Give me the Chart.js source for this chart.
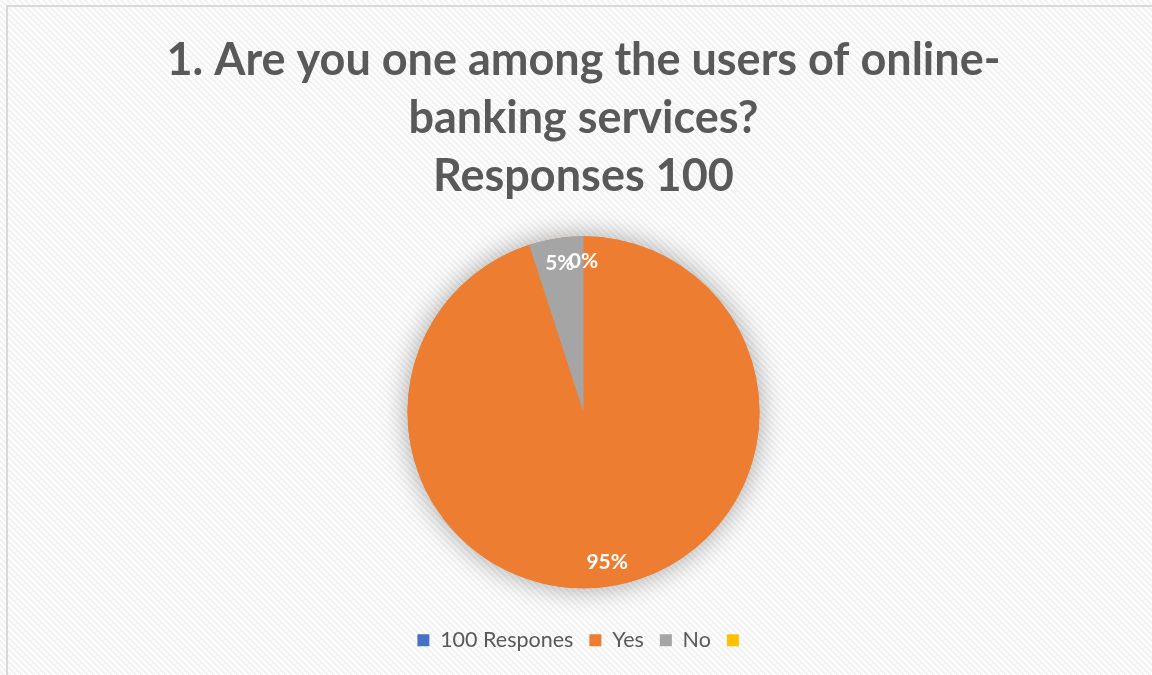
<!DOCTYPE html>
<html>
<head>
<meta charset="utf-8">
<title>Online banking survey</title>
<script src="https://cdn.jsdelivr.net/npm/chart.js@4.4.1/dist/chart.umd.min.js"></script>
<style>
  html, body { margin: 0; padding: 0; background: #ffffff; }
  #wrap { width: 1152px; height: 675px; }
</style>
</head>
<body>
<div id="wrap"><canvas id="chart" width="1152" height="675"></canvas></div>
<script>
// Survey answers
const categories = ['100 Respones', 'Yes', 'No', ''];
const responses = [0, 95, 5, null];
const sliceColors = ['#4472C4', '#ED7D31', '#A5A5A5', '#FFC000'];
const titleLines = ['1. Are you one among the users of online-', 'banking services?', 'Responses 100'];

// Faint diagonal hatch used as the chart backdrop
function makeHatch() {
  const tile = document.createElement('canvas');
  tile.width = 6; tile.height = 6;
  const t = tile.getContext('2d');
  for (let y = 0; y < 6; y++) {
    for (let x = 0; x < 6; x++) {
      const k = ((x - y) % 6 + 6) % 6;
      t.fillStyle = k < 3 ? '#f2f2f2' : '#ffffff';
      t.fillRect(x, y, 1, 1);
    }
  }
  return tile;
}

const backdrop = {
  id: 'backdrop',
  beforeDraw(chart) {
    const ctx = chart.ctx;
    ctx.save();
    ctx.fillStyle = ctx.createPattern(makeHatch(), 'repeat');
    ctx.fillRect(0, 0, chart.width, chart.height);
    ctx.strokeStyle = '#d9d9d9';
    ctx.lineWidth = 2;
    ctx.strokeRect(7, 6, chart.width + 10, chart.height + 10);
    ctx.restore();
  }
};

// Soft glow under the pie
const pieShadow = {
  id: 'pieShadow',
  beforeDatasetsDraw(chart) {
    const arc = chart.getDatasetMeta(0).data[0];
    if (!arc) return;
    const ctx = chart.ctx;
    ctx.save();
    ctx.shadowColor = 'rgba(0,0,0,0.35)';
    ctx.shadowBlur = 28;
    ctx.fillStyle = '#ED7D31';
    ctx.beginPath();
    ctx.arc(arc.x, arc.y, arc.outerRadius, 0, Math.PI * 2);
    ctx.fill();
    ctx.restore();
  }
};

// Percentage labels inside the slices
const sliceLabels = {
  id: 'sliceLabels',
  afterDatasetsDraw(chart) {
    const meta = chart.getDatasetMeta(0);
    const values = chart.data.datasets[0].data;
    const total = values.reduce((s, v) => s + (Number.isFinite(v) ? v : 0), 0);
    const ctx = chart.ctx;
    ctx.save();
    ctx.fillStyle = '#ffffff';
    ctx.font = 'bold 21px Lato';
    ctx.textAlign = 'center';
    ctx.textBaseline = 'middle';
    for (let i = meta.data.length - 1; i >= 0; i--) {
      const v = values[i];
      if (!Number.isFinite(v)) continue;
      const arc = meta.data[i];
      const mid = (arc.startAngle + arc.endAngle) / 2;
      const r = arc.outerRadius * 0.86;
      const pct = Math.round(v / total * 100) + '%';
      ctx.fillText(pct, arc.x + Math.cos(mid) * r, arc.y + Math.sin(mid) * r);
    }
    ctx.restore();
  }
};

new Chart(document.getElementById('chart'), {
  type: 'pie',
  data: {
    labels: categories,
    datasets: [{
      data: responses,
      backgroundColor: sliceColors,
      borderWidth: 0,
      radius: 176
    }]
  },
  options: {
    responsive: false,
    devicePixelRatio: 1,
    animation: false,
    layout: { padding: { left: 15, right: 0, top: 0, bottom: 14 } },
    plugins: {
      title: {
        display: true,
        text: titleLines,
        color: '#595959',
        font: { family: 'Lato', size: 45, weight: 'bold', lineHeight: 1.289 },
        padding: { top: 31, bottom: 6 }
      },
      legend: {
        display: true,
        position: 'bottom',
        labels: {
          color: '#595959',
          font: { family: 'Lato', size: 21.5 },
          boxWidth: 12,
          boxHeight: 12,
          padding: 16
        }
      },
      tooltip: { enabled: false }
    }
  },
  plugins: [backdrop, pieShadow, sliceLabels]
});
</script>
</body>
</html>
